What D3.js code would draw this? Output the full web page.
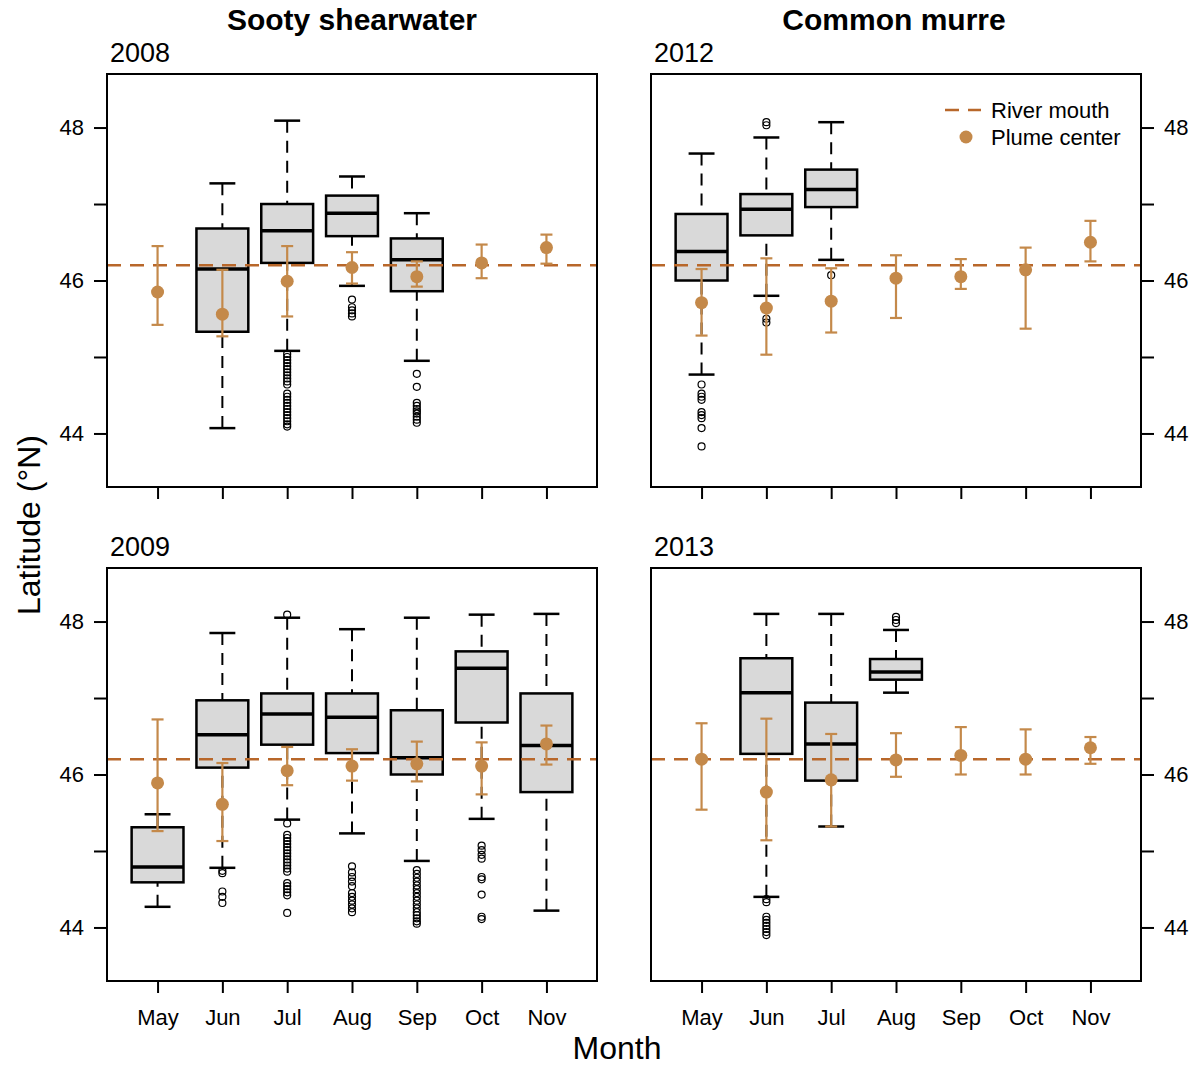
<!DOCTYPE html>
<html>
<head>
<meta charset="utf-8">
<script src="https://cdn.jsdelivr.net/npm/d3@7"></script>
<style>
  body { margin: 0; background: #fff; }
  svg text { font-family: "Liberation Sans", Arial, sans-serif; fill: #000; }
</style>
</head>
<body>
<script>
// month categories + reference line
var months = ["May", "Jun", "Jul", "Aug", "Sep", "Oct", "Nov"];
var riverMouth = 46.2;
var yTicks = [44, 45, 46, 47, 48];
var yTickLabels = ["44", "", "46", "", "48"];

// box stats: [lower whisker, q1, median, q3, upper whisker]
var sooty2008Box = [null, [44.07, 45.33, 46.15, 46.68, 47.27], [45.08, 46.23, 46.65, 47.00, 48.09], [45.93, 46.58, 46.88, 47.11, 47.36], [44.95, 45.86, 46.27, 46.55, 46.88], null, null];
var sooty2008Out = [[], [],
  [45.04, 45.00, 44.96, 44.92, 44.88, 44.84, 44.80, 44.76, 44.72, 44.68, 44.64, 44.52, 44.48, 44.44, 44.40, 44.36, 44.32, 44.28, 44.24, 44.20, 44.16, 44.12, 44.09],
  [45.75, 45.65, 45.61, 45.57, 45.53],
  [44.78, 44.61, 44.40, 44.36, 44.32, 44.29, 44.26, 44.22, 44.18, 44.14],
  [], []];
var sooty2008Plume = [45.85, 45.56, 45.99, 46.17, 46.05, 46.23, 46.43];
var sooty2008Lo = [45.42, 45.27, 45.53, 45.96, 45.92, 46.03, 46.22];
var sooty2008Hi = [46.45, 46.14, 46.45, 46.37, 46.25, 46.47, 46.60];

var sooty2009Box = [[44.27, 44.59, 44.79, 45.31, 45.48], [44.78, 46.09, 46.52, 46.97, 47.85], [45.41, 46.39, 46.79, 47.06, 48.05], [45.23, 46.28, 46.75, 47.06, 47.90], [44.87, 46.00, 46.22, 46.84, 48.05], [45.42, 46.68, 47.39, 47.61, 48.09], [44.22, 45.77, 46.38, 47.06, 48.10]];
var sooty2009Out = [[],
  [44.74, 44.71, 44.47, 44.40, 44.32],
  [48.09, 45.36, 45.21, 45.17, 45.13, 45.09, 45.05, 45.01, 44.97, 44.93, 44.89, 44.85, 44.81, 44.77, 44.73, 44.58, 44.54, 44.50, 44.46, 44.42, 44.19],
  [44.80, 44.72, 44.66, 44.60, 44.54, 44.45, 44.40, 44.35, 44.30, 44.25, 44.20],
  [44.75, 44.70, 44.65, 44.60, 44.55, 44.50, 44.45, 44.40, 44.35, 44.30, 44.25, 44.20, 44.16, 44.12, 44.08, 44.05],
  [45.07, 45.01, 44.95, 44.90, 44.66, 44.63, 44.43, 44.14, 44.11],
  []];
var sooty2009Plume = [45.89, 45.61, 46.05, 46.11, 46.14, 46.11, 46.40];
var sooty2009Lo = [45.26, 45.13, 45.86, 45.92, 45.91, 45.74, 46.13];
var sooty2009Hi = [46.72, 46.15, 46.36, 46.33, 46.43, 46.42, 46.64];

var murre2012Box = [[44.77, 46.00, 46.38, 46.87, 47.66], [45.80, 46.59, 46.93, 47.13, 47.87], [46.27, 46.96, 47.19, 47.45, 48.07], null, null, null, null];
var murre2012Out = [
  [44.64, 44.52, 44.48, 44.44, 44.28, 44.24, 44.20, 44.07, 43.83],
  [48.07, 48.03, 45.50, 45.45],
  [46.07], [], [], [], []];
var murre2012Plume = [45.71, 45.64, 45.73, 46.03, 46.05, 46.14, 46.50];
var murre2012Lo = [45.28, 45.03, 45.32, 45.51, 45.89, 45.37, 46.25];
var murre2012Hi = [46.15, 46.29, 46.16, 46.33, 46.28, 46.43, 46.78];

var murre2013Box = [null, [44.40, 46.27, 47.07, 47.52, 48.10], [45.32, 45.92, 46.40, 46.94, 48.10], [47.07, 47.24, 47.34, 47.51, 47.89], null, null, null];
var murre2013Out = [[],
  [44.37, 44.33, 44.14, 44.10, 44.06, 44.02, 43.98, 43.94, 43.90],
  [], [48.06, 48.02, 47.98], [], [], []];
var murre2013Plume = [46.20, 45.77, 45.93, 46.19, 46.25, 46.20, 46.35];
var murre2013Lo = [45.54, 45.14, 45.32, 45.97, 46.00, 46.00, 46.14];
var murre2013Hi = [46.67, 46.73, 46.53, 46.54, 46.62, 46.59, 46.49];

var plumeColor = "#c4894a";
var lineColor = "#b8672a";

var createSvg = function() {
  let svg = d3.select("body").append("svg")
    .attr("width", 1199)
    .attr("height", 1067);

  let panels = [
    { year: "2008", x0: 107, x1: 597, y0: 74, y1: 487, side: "left", labels: false,
      box: sooty2008Box, out: sooty2008Out, plume: sooty2008Plume, lo: sooty2008Lo, hi: sooty2008Hi },
    { year: "2012", x0: 651, x1: 1141, y0: 74, y1: 487, side: "right", labels: false, legend: true,
      box: murre2012Box, out: murre2012Out, plume: murre2012Plume, lo: murre2012Lo, hi: murre2012Hi },
    { year: "2009", x0: 107, x1: 597, y0: 568, y1: 981, side: "left", labels: true,
      box: sooty2009Box, out: sooty2009Out, plume: sooty2009Plume, lo: sooty2009Lo, hi: sooty2009Hi },
    { year: "2013", x0: 651, x1: 1141, y0: 568, y1: 981, side: "right", labels: true,
      box: murre2013Box, out: murre2013Out, plume: murre2013Plume, lo: murre2013Lo, hi: murre2013Hi }
  ];

  panels.forEach(p => {
    let x = d3.scaleLinear().domain([0.22, 7.78]).range([p.x0, p.x1]);
    let y = d3.scaleLinear().domain([43.3, 48.7]).range([p.y1, p.y0]);
    let unit = x(2) - x(1);
    let g = svg.append("g");

    // axes
    let yAxis = (p.side == "left" ? d3.axisLeft(y) : d3.axisRight(y))
      .tickValues(yTicks)
      .tickFormat((d, i) => yTickLabels[i])
      .tickSize(13)
      .tickPadding(10);
    g.append("g")
      .attr("transform", "translate(" + (p.side == "left" ? p.x0 : p.x1) + ",0)")
      .call(yAxis)
      .call(a => a.select(".domain").remove())
      .call(a => a.selectAll("line").attr("stroke", "#000").attr("stroke-width", 2))
      .call(a => a.selectAll("text").style("font-size", "22px")
        .style("font-family", "'Liberation Sans', Arial, sans-serif"));

    let xAxis = d3.axisBottom(x)
      .tickValues(d3.range(1, months.length + 1))
      .tickFormat((d, i) => p.labels ? months[i] : "")
      .tickSize(12)
      .tickPadding(16);
    g.append("g")
      .attr("transform", "translate(0," + p.y1 + ")")
      .call(xAxis)
      .call(a => a.select(".domain").remove())
      .call(a => a.selectAll("line").attr("stroke", "#000").attr("stroke-width", 2))
      .call(a => a.selectAll("text").style("font-size", "22px")
        .style("font-family", "'Liberation Sans', Arial, sans-serif"));

    // boxes
    let boxData = p.box.map((b, i) => ({ i: i + 1, b: b, out: p.out[i] })).filter(d => d.b);
    let bg = g.selectAll(".box").data(boxData).enter().append("g");
    bg.append("line")
      .attr("x1", d => x(d.i)).attr("x2", d => x(d.i))
      .attr("y1", d => y(d.b[0])).attr("y2", d => y(d.b[1]))
      .attr("stroke", "#000").attr("stroke-width", 2).attr("stroke-dasharray", "12,8");
    bg.append("line")
      .attr("x1", d => x(d.i)).attr("x2", d => x(d.i))
      .attr("y1", d => y(d.b[4])).attr("y2", d => y(d.b[3]))
      .attr("stroke", "#000").attr("stroke-width", 2).attr("stroke-dasharray", "12,8");
    [0, 4].forEach(k => {
      bg.append("line")
        .attr("x1", d => x(d.i - 0.2)).attr("x2", d => x(d.i + 0.2))
        .attr("y1", d => y(d.b[k])).attr("y2", d => y(d.b[k]))
        .attr("stroke", "#000").attr("stroke-width", 2.5);
    });
    bg.append("rect")
      .attr("x", d => x(d.i - 0.4)).attr("width", 0.8 * unit)
      .attr("y", d => y(d.b[3])).attr("height", d => y(d.b[1]) - y(d.b[3]))
      .attr("fill", "#d9d9d9").attr("stroke", "#000").attr("stroke-width", 2.5);
    bg.append("line")
      .attr("x1", d => x(d.i - 0.4)).attr("x2", d => x(d.i + 0.4))
      .attr("y1", d => y(d.b[2])).attr("y2", d => y(d.b[2]))
      .attr("stroke", "#000").attr("stroke-width", 3.5);
    bg.selectAll("circle").data(d => d.out.map(v => ({ i: d.i, v: v }))).enter()
      .append("circle")
      .attr("cx", d => x(d.i)).attr("cy", d => y(d.v)).attr("r", 3.5)
      .attr("fill", "none").attr("stroke", "#000").attr("stroke-width", 1.2);

    // river mouth line
    g.append("line")
      .attr("x1", p.x0).attr("x2", p.x1)
      .attr("y1", y(riverMouth)).attr("y2", y(riverMouth))
      .attr("stroke", lineColor).attr("stroke-width", 2.5).attr("stroke-dasharray", "14,9");

    // plume center with error bars
    let pd = p.plume.map((v, i) => ({ i: i + 1, v: v, lo: p.lo[i], hi: p.hi[i] }));
    let eg = g.selectAll(".err").data(pd).enter().append("g");
    eg.append("line")
      .attr("x1", d => x(d.i)).attr("x2", d => x(d.i))
      .attr("y1", d => y(d.lo)).attr("y2", d => y(d.hi))
      .attr("stroke", plumeColor).attr("stroke-width", 2.2);
    ["lo", "hi"].forEach(k => {
      eg.append("line")
        .attr("x1", d => x(d.i) - 6).attr("x2", d => x(d.i) + 6)
        .attr("y1", d => y(d[k])).attr("y2", d => y(d[k]))
        .attr("stroke", plumeColor).attr("stroke-width", 2.2);
    });
    eg.append("circle")
      .attr("cx", d => x(d.i)).attr("cy", d => y(d.v)).attr("r", 6.5)
      .attr("fill", plumeColor);

    // frame
    g.append("rect")
      .attr("x", p.x0).attr("y", p.y0)
      .attr("width", p.x1 - p.x0).attr("height", p.y1 - p.y0)
      .attr("fill", "none").attr("stroke", "#000").attr("stroke-width", 2);

    // year
    g.append("text")
      .attr("x", p.x0 + 3).attr("y", p.y0 - 12)
      .style("font-size", "27px")
      .text(p.year);

    if (p.legend) {
      g.append("line")
        .attr("x1", 945).attr("x2", 981).attr("y1", 110).attr("y2", 110)
        .attr("stroke", lineColor).attr("stroke-width", 2.5).attr("stroke-dasharray", "14,9");
      g.append("text").attr("x", 991).attr("y", 118).style("font-size", "22px").text("River mouth");
      g.append("circle").attr("cx", 966).attr("cy", 137).attr("r", 6.5).attr("fill", plumeColor);
      g.append("text").attr("x", 991).attr("y", 145).style("font-size", "22px").text("Plume center");
    }
  });

  // species titles + axis titles
  svg.append("text").attr("x", 352).attr("y", 30).attr("text-anchor", "middle")
    .style("font-size", "30px").style("font-weight", "bold").text("Sooty shearwater");
  svg.append("text").attr("x", 894).attr("y", 30).attr("text-anchor", "middle")
    .style("font-size", "30px").style("font-weight", "bold").text("Common murre");
  svg.append("text").attr("x", 617).attr("y", 1059).attr("text-anchor", "middle")
    .style("font-size", "32px").text("Month");
  svg.append("text").attr("transform", "translate(40,525) rotate(-90)").attr("text-anchor", "middle")
    .style("font-size", "32px").text("Latitude (°N)");
}

var load = function() {
  createSvg();
}

load();
</script>
</body>
</html>
